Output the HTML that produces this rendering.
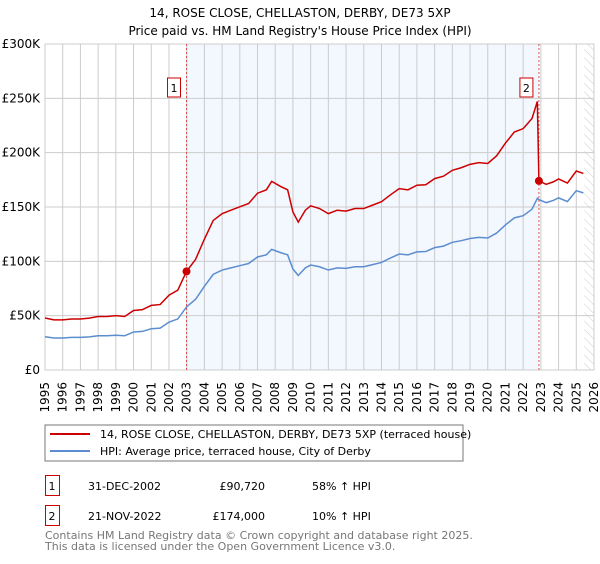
<!DOCTYPE html>
<html><head><meta charset="utf-8"><style>
body{margin:0;background:#fff;font-family:"DejaVu Sans","Liberation Sans",sans-serif;}
svg text{font-family:"DejaVu Sans","Liberation Sans",sans-serif;}
</style></head><body>
<svg id="chart" width="600" height="560" viewBox="0 0 600 560">
<defs><pattern id="hatch" width="6" height="6" patternUnits="userSpaceOnUse" patternTransform="rotate(-45)"><line x1="0" y1="0" x2="0" y2="6" stroke="#ccc" stroke-width="1"/></pattern></defs>
<text x="300" y="17" text-anchor="middle" font-size="12">14, ROSE CLOSE, CHELLASTON, DERBY, DE73 5XP</text>
<text x="300" y="35" text-anchor="middle" font-size="12">Price paid vs. HM Land Registry's House Price Index (HPI)</text>
<g id="plot"></g>
<rect x="45" y="425" width="418" height="36" fill="#fff" stroke="#777"/>
<line x1="50" y1="434" x2="90" y2="434" stroke="#cc0000" stroke-width="2"/>
<text x="100" y="438" font-size="11">14, ROSE CLOSE, CHELLASTON, DERBY, DE73 5XP (terraced house)</text>
<line x1="50" y1="451" x2="90" y2="451" stroke="#5b8dd0" stroke-width="2"/>
<text x="100" y="455" font-size="11">HPI: Average price, terraced house, City of Derby</text>
<g font-size="11">
<rect x="45.5" y="475.5" width="14" height="20" fill="#fff" stroke="#cc0000"/>
<text x="52" y="490" text-anchor="middle">1</text>
<text x="88" y="490">31-DEC-2002</text>
<text x="265" y="490" text-anchor="end">£90,720</text>
<text x="312" y="490">58% ↑ HPI</text></g>
<g font-size="11">
<rect x="45.5" y="505.5" width="14" height="20" fill="#fff" stroke="#cc0000"/>
<text x="52" y="520" text-anchor="middle">2</text>
<text x="88" y="520">21-NOV-2022</text>
<text x="265" y="520" text-anchor="end">£174,000</text>
<text x="312" y="520">10% ↑ HPI</text></g>
<text x="45" y="539" font-size="11" fill="#777">Contains HM Land Registry data © Crown copyright and database right 2025.</text>
<text x="45" y="550" font-size="11" fill="#777">This data is licensed under the Open Government Licence v3.0.</text>
</svg>
<script>
const hpiYears=[1995,1995.5,1996,1996.5,1997,1997.5,1998,1998.5,1999,1999.5,2000,2000.5,2001,2001.5,2002,2002.5,2002.99,2003.5,2004,2004.5,2005,2005.5,2006,2006.5,2007,2007.5,2007.8,2008.3,2008.7,2009,2009.3,2009.7,2010,2010.5,2011,2011.5,2012,2012.5,2013,2013.5,2014,2014.5,2015,2015.5,2016,2016.5,2017,2017.5,2018,2018.5,2019,2019.5,2020,2020.5,2021,2021.5,2022,2022.5,2022.8,2022.89,2023.3,2023.7,2024,2024.5,2025,2025.4];
const hpiValues=[30.6,29.5,29.5,30,30,30.5,31.5,31.5,32,31.5,35,35.5,38,38.5,44,47,58,65,77,88,92,94,96,98,104,106,111,108,106,93,87,94,96.6,95,92,94,93.5,95,95,97,99,103,106.7,106,108.7,109,112.6,114,117.5,119,121,122,121.5,126,133.5,140,142,148,158,156.8,154,156,158.4,155,165,163];
const saleYears=[2002.99,2022.89];
const salePrices=[90.72,174];
const yTicks=[0,50,100,150,200,250,300];
const yTickLabels=["£0","£50K","£100K","£150K","£200K","£250K","£300K"];
const xTicks=[1995,1996,1997,1998,1999,2000,2001,2002,2003,2004,2005,2006,2007,2008,2009,2010,2011,2012,2013,2014,2015,2016,2017,2018,2019,2020,2021,2022,2023,2024,2025,2026];
const L=45,R=594,T=44,B=370;
const xS=v=>L+(v-1995)/(2026-1995)*(R-L);
const yS=v=>B-v/300*(B-T);
const NS="http://www.w3.org/2000/svg";
const g=document.getElementById('plot');
function mk(t,a){const e=document.createElementNS(NS,t);for(const k in a)e.setAttribute(k,a[k]);g.appendChild(e);return e;}
function hpiAt(y){for(let i=1;i<hpiYears.length;i++){if(y<=hpiYears[i]){const f=(y-hpiYears[i-1])/(hpiYears[i]-hpiYears[i-1]);return hpiValues[i-1]+f*(hpiValues[i]-hpiValues[i-1]);}}return hpiValues[hpiValues.length-1];}
let e;
e=mk('rect',{x:xS(saleYears[0]),y:T,width:xS(saleYears[1])-xS(saleYears[0]),height:B-T,fill:'#eef3fd',opacity:0.7});


e=mk('rect',{x:xS(2025.45),y:T,width:R-xS(2025.45),height:B-T,fill:'url(#hatch)'});


xTicks.forEach(v=>{e=mk('line',{x1:xS(v),x2:xS(v),y1:T,y2:B,stroke:'#ccc'});


const t=mk('text',{x:0,y:0,'font-size':12,'text-anchor':'end',transform:`translate(${xS(v)+4},${B+12}) rotate(-90)`});t.textContent=v;

});
yTicks.forEach((v,i)=>{e=mk('line',{x1:L,x2:R,y1:yS(v),y2:yS(v),stroke:'#ccc'});


const t=mk('text',{x:L-5,y:yS(v)+4,'font-size':12,'text-anchor':'end'});t.textContent=yTickLabels[i];

});
e=mk('rect',{x:L,y:T,width:R-L,height:B-T,fill:'none',stroke:'#ccc'});


saleYears.forEach((s,i)=>{e=mk('line',{x1:xS(s),x2:xS(s),y1:T,y2:B,stroke:'#e05050','stroke-dasharray':'2,2'});

});
e=mk('polyline',{points:hpiYears.map((y,i)=>xS(y)+','+yS(hpiValues[i])).join(' '),fill:'none',stroke:'#5b8dd0','stroke-width':1.5});


const r1=salePrices[0]/hpiAt(saleYears[0]),r2=salePrices[1]/hpiAt(saleYears[1]);
const pts=[];
hpiYears.forEach((y,i)=>{if(y<saleYears[1])pts.push([y,hpiValues[i]*r1]);});
pts.push([saleYears[1],salePrices[1]]);
hpiYears.forEach((y,i)=>{if(y>saleYears[1])pts.push([y,hpiValues[i]*r2]);});
e=mk('polyline',{points:pts.map(p=>xS(p[0])+','+yS(p[1])).join(' '),fill:'none',stroke:'#cc0000','stroke-width':1.5});


saleYears.forEach((s,i)=>{e=mk('circle',{cx:xS(s),cy:yS(salePrices[i]),r:4,fill:'#cc0000'});


const bx=xS(s)-13;
e=mk('rect',{x:bx-6,y:T+34,width:13,height:19,fill:'#fff',stroke:'#cc0000'});


const t=mk('text',{x:bx+0.5,y:T+48,'font-size':11,'text-anchor':'middle'});t.textContent=i+1;

});
</script>
</body></html>
